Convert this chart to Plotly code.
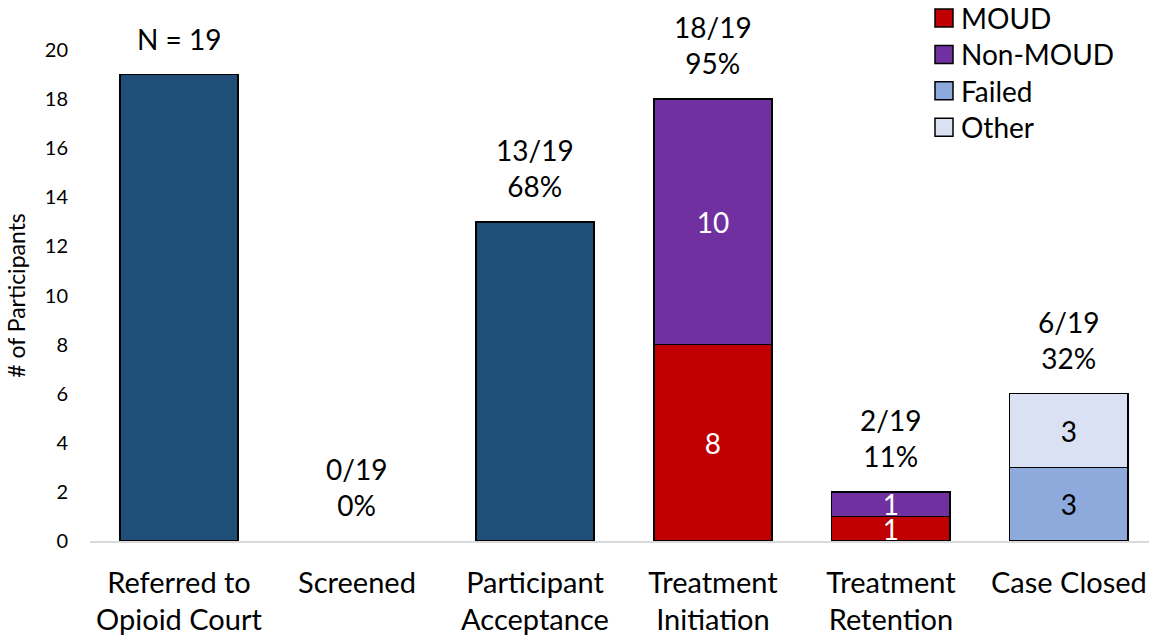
import plotly.graph_objects as go

# ---- data ----
categories = ["Referred to<br>Opioid Court", "Screened", "Participant<br>Acceptance",
              "Treatment<br>Initiation", "Treatment<br>Retention", "Case Closed"]
totals = [19, 0, 13, None, None, None]          # single-colour bars
moud = [None, None, None, 8, 1, None]
non_moud = [None, None, None, 10, 1, None]
failed = [None, None, None, None, None, 3]
other = [None, None, None, None, None, 3]
top_labels = ["N = 19", "0/19<br>0%", "13/19<br>68%", "18/19<br>95%", "2/19<br>11%", "6/19<br>32%"]
label_heights = [19, 0, 13, 18, 2, 6]

series_names = ["MOUD", "Non-MOUD", "Failed", "Other"]
series_values = [moud, non_moud, failed, other]
series_colors = ["#C00000", "#7030A0", "#8EA9DB", "#D9E1F2"]
series_text_colors = ["white", "white", "black", "black"]

FONT = "Lato, Calibri, Carlito, sans-serif"
W, H = 1149, 637
ML, MR, MT, MB = 90, 0, 50, 96
BAR_W = 0.665
LBL = 28

fig = go.Figure()

# empty (zero-height) bars get no outline
fig.add_trace(go.Bar(
    x=categories, y=totals,
    marker=dict(color="#1F4E79",
                line=dict(color="black", width=[1.5 if v else 0 for v in totals])),
    width=BAR_W, showlegend=False, hoverinfo="skip",
))

for name, vals, col, tcol in zip(series_names, series_values, series_colors, series_text_colors):
    fig.add_trace(go.Bar(
        x=categories, y=vals, name=name, width=BAR_W,
        marker=dict(color=col, line=dict(color="black", width=1.5)),
        text=[("" if v is None else str(v)) for v in vals],
        textposition="inside", insidetextanchor="middle", textangle=0,
        textfont=dict(color=tcol, size=LBL, family=FONT),
        showlegend=False, hoverinfo="skip", cliponaxis=False,
    ))

# value / percentage labels above each column
for cat, lab, h in zip(categories, top_labels, label_heights):
    fig.add_annotation(
        x=cat, y=h, text=lab, showarrow=False, yanchor="bottom",
        yshift=17, font=dict(size=LBL, family=FONT, color="black"),
    )

# legend keys drawn in pixel positions converted to paper space
pw, ph = W - ML - MR, H - MT - MB
def px_x(p):
    return (p - ML) / pw
def px_y(p):
    return (H - MB - p) / ph

for i, (name, col) in enumerate(zip(series_names, series_colors)):
    cy = 18 + 36.4 * i
    fig.add_shape(type="rect", xref="paper", yref="paper",
                  x0=px_x(935), x1=px_x(953), y0=px_y(cy + 9), y1=px_y(cy - 9),
                  fillcolor=col, line=dict(color="black", width=1.5))
    fig.add_annotation(xref="paper", yref="paper", x=px_x(959), y=px_y(cy),
                       text=name, showarrow=False, xanchor="left", yanchor="middle",
                       font=dict(size=LBL, family=FONT, color="black"))

fig.update_layout(
    barmode="stack",
    width=W, height=H,
    margin=dict(l=ML, r=MR, t=MT, b=MB),
    plot_bgcolor="white", paper_bgcolor="white",
    font=dict(family=FONT, color="black"),
    uniformtext=dict(minsize=LBL, mode="show"),
    xaxis=dict(
        range=[-0.5, 5.45], showgrid=False, showline=True, linecolor="#D9D9D9",
        linewidth=1.5, ticks="", tickfont=dict(size=29, family=FONT),
        ticklabelstandoff=15,
    ),
    yaxis=dict(
        range=[0, 20], dtick=2, showgrid=False, zeroline=False, showline=False,
        tickfont=dict(size=20, family=FONT), ticklabelstandoff=21,
        title=dict(text="# of Participants", font=dict(size=23, family=FONT), standoff=12),
    ),
)

fig.write_html("out.html")
